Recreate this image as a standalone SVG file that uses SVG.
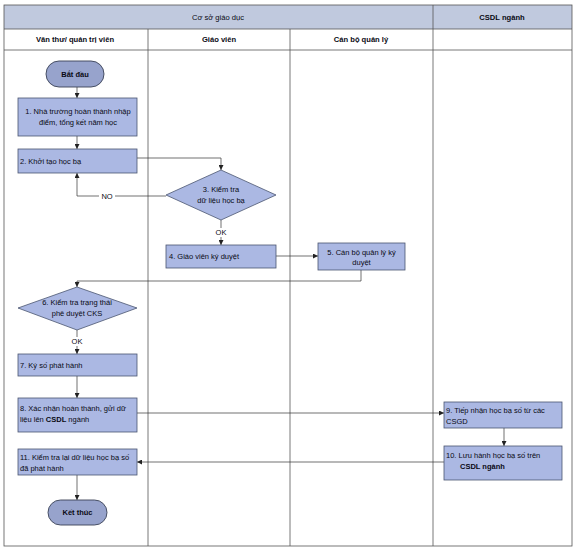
<svg xmlns="http://www.w3.org/2000/svg" width="575" height="550" viewBox="0 0 575 550">
<defs>
<marker id="ah" viewBox="0 0 6 6" refX="6" refY="3" markerWidth="5" markerHeight="5" orient="auto" markerUnits="userSpaceOnUse">
<path d="M0,0 L6,3 L0,6 z" fill="#222"/>
</marker>
<style>
text{font-family:"Liberation Sans",Arial,sans-serif;font-size:7.5px;fill:#0a0a14}
.h{font-size:7.6px;font-weight:bold}
.hn{font-size:7.6px}
.b{font-weight:bold}
.c{text-anchor:middle}
.box{fill:#abb8e3;stroke:#4a5570;stroke-width:0.8}
.term{fill:#97a3cc;stroke:#3a4256;stroke-width:0.9}
.grid{stroke:#555;stroke-width:0.8;fill:none}
.con{stroke:#333;stroke-width:0.7;fill:none}
.arr{marker-end:url(#ah)}
</style>
</defs>
<rect x="0" y="0" width="575" height="550" fill="#fff"/>
<g id="lanes">
<rect x="4" y="5" width="568" height="24" fill="#c0c9de"/>
<rect x="4" y="5" width="568" height="541" class="grid"/>
<line x1="4" y1="29" x2="572" y2="29" class="grid"/>
<line x1="4" y1="50" x2="572" y2="50" class="grid"/>
<line x1="148" y1="29" x2="148" y2="546" class="grid"/>
<line x1="290" y1="29" x2="290" y2="546" class="grid"/>
<line x1="433" y1="5" x2="433" y2="546" class="grid"/>
<text x="218" y="20" class="hn c">Cơ sở giáo dục</text>
<text x="502" y="20" class="h c">CSDL ngành</text>
<text x="75" y="42" class="h c">Văn thư/ quản trị viên</text>
<text x="219" y="42" class="h c">Giáo viên</text>
<text x="361" y="42" class="h c">Cán bộ quản lý</text>
</g>
<g id="connectors">
<path d="M77,87 V98" class="con arr"/>
<path d="M77,136 V149" class="con arr"/>
<path d="M137,158 H221 V170" class="con arr"/>
<path d="M166,196 H77 V173" class="con arr"/>
<rect x="99" y="191" width="16" height="9" fill="#fff"/>
<text x="107" y="198.5" class="c">NO</text>
<path d="M221,220 V245" class="con arr"/>
<rect x="213" y="228" width="16" height="9" fill="#fff"/>
<text x="221" y="235" class="c">OK</text>
<path d="M276,256 H318" class="con arr"/>
<path d="M361,270 V281 H77 V287" class="con arr"/>
<path d="M77,330 V354" class="con arr"/>
<rect x="69" y="337" width="16" height="9" fill="#fff"/>
<text x="77" y="344" class="c">OK</text>
<path d="M77,376 V398" class="con arr"/>
<path d="M137,413 H444" class="con arr"/>
<path d="M504,428 V446" class="con arr"/>
<path d="M444,462 H137" class="con arr"/>
<path d="M77,475 V500" class="con arr"/>
</g>
<g id="start">
<rect x="46" y="61" width="58" height="26" rx="13" class="term"/>
<text x="75" y="76.5" class="c b">Bắt đầu</text>
</g>
<g id="n1">
<rect x="18" y="98" width="119" height="38" class="box"/>
<text x="78" y="114" class="c">1. Nhà trường hoàn thành nhập</text>
<text x="78" y="125" class="c">điểm, tổng kết năm học</text>
</g>
<g id="n2">
<rect x="18" y="149" width="119" height="24" class="box"/>
<text x="20" y="163.5">2. Khởi tạo học bạ</text>
</g>
<g id="n3">
<polygon points="221,170 276,195 221,220 166,195" class="box"/>
<text x="221" y="192" class="c">3. Kiểm tra</text>
<text x="221" y="203" class="c">dữ liệu học bạ</text>
</g>
<g id="n4">
<rect x="166" y="245" width="110" height="23" class="box"/>
<text x="169" y="259">4. Giáo viên ký duyệt</text>
</g>
<g id="n5">
<rect x="318" y="243" width="87" height="27" class="box"/>
<text x="361.5" y="254.5" class="c">5. Cán bộ quản lý ký</text>
<text x="361.5" y="265" class="c">duyệt</text>
</g>
<g id="n6">
<polygon points="77,287 137,308 77,330 18,308" class="box"/>
<text x="77" y="305" class="c">6. Kiểm tra trạng thái</text>
<text x="77" y="316" class="c">phê duyệt CKS</text>
</g>
<g id="n7">
<rect x="18" y="354" width="119" height="22" class="box"/>
<text x="20" y="367.5">7. Ký số phát hành</text>
</g>
<g id="n8">
<rect x="18" y="398" width="119" height="34" class="box"/>
<text x="20" y="411">8. Xác nhận hoàn thành, gửi dữ</text>
<text x="20" y="422">liệu lên <tspan class="b">CSDL</tspan> ngành</text>
</g>
<g id="n9">
<rect x="444" y="402" width="118" height="26" class="box"/>
<text x="446" y="413">9. Tiếp nhận học bạ số từ các</text>
<text x="446" y="424">CSGD</text>
</g>
<g id="n10">
<rect x="444" y="446" width="118" height="34" class="box"/>
<text x="446" y="457.5">10. Lưu hành học bạ số trên</text>
<text x="460" y="469" class="b">CSDL ngành</text>
</g>
<g id="n11">
<rect x="18" y="449" width="119" height="26" class="box"/>
<text x="20" y="460">11. Kiểm tra lại dữ liệu học bạ số</text>
<text x="20" y="471">đã phát hành</text>
</g>
<g id="end">
<rect x="48" y="500" width="59" height="25" rx="12.5" class="term"/>
<text x="77.5" y="515" class="c b">Kết thúc</text>
</g>
</svg>
